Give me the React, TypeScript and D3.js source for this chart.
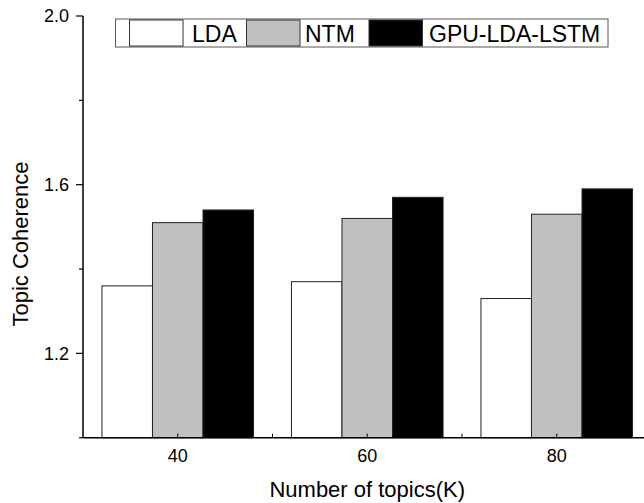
import React, { useEffect, useRef } from 'react';
import * as d3 from 'd3';

const topics = ['40', '60', '80'];
const models = ['LDA', 'NTM', 'GPU-LDA-LSTM'];
const ldaValues = [1.36, 1.37, 1.33];
const ntmValues = [1.51, 1.52, 1.53];
const gpuValues = [1.54, 1.57, 1.59];
const majorTicks = [1.2, 1.6, 2.0];
const minorTicks = [1.0, 1.4, 1.8];

const fills = ['#ffffff', '#c0c0c0', '#000000'];
const font = '"Liberation Sans", Arial, sans-serif';

export default function App() {
  const ref = useRef<SVGSVGElement>(null);

  useEffect(() => {
    const svg = d3.select(ref.current);
    svg.selectAll('*').remove();

    const width = 644, height = 503;
    const left = 83, top = 16, bottom = 437.7;
    const plotRight = 651.5;

    const x = d3.scaleBand<string>()
      .domain(topics)
      .range([left, plotRight])
      .paddingInner(0.2)
      .paddingOuter(0.1);

    const inner = d3.scaleBand<string>()
      .domain(models)
      .range([0, x.bandwidth()])
      .padding(0);

    const y = d3.scaleLinear().domain([1.0, 2.0]).range([bottom, top]);

    const series = [ldaValues, ntmValues, gpuValues];

    // bars
    const groups = svg.append('g')
      .selectAll('g')
      .data(topics)
      .enter()
      .append('g')
      .attr('transform', (d) => 'translate(' + x(d) + ',0)');

    groups.selectAll('rect')
      .data((d, i) => models.map((m, j) => ({ model: m, value: series[j][i], idx: j })))
      .enter()
      .append('rect')
      .attr('x', (d) => inner(d.model) as number)
      .attr('y', (d) => y(d.value))
      .attr('width', inner.bandwidth())
      .attr('height', (d) => bottom - y(d.value))
      .attr('fill', (d) => fills[d.idx])
      .attr('stroke', '#222')
      .attr('stroke-width', 1);

    // x axis
    svg.append('line')
      .attr('x1', left).attr('x2', width)
      .attr('y1', bottom).attr('y2', bottom)
      .attr('stroke', '#000').attr('stroke-width', 1.5);

    const step = x.step();
    const xTickPos = topics.map((t) => (x(t) as number) + x.bandwidth() / 2);
    const xMinorPos = topics.map((t, i) => left + step * (i + 1));
    svg.selectAll('.xtick')
      .data(xTickPos.concat(xMinorPos))
      .enter()
      .append('line')
      .attr('x1', (d) => d).attr('x2', (d) => d)
      .attr('y1', bottom).attr('y2', bottom - 4)
      .attr('stroke', '#000').attr('stroke-width', 1);

    svg.selectAll('.xlabel')
      .data(topics)
      .enter()
      .append('text')
      .attr('x', (d) => (x(d) as number) + x.bandwidth() / 2)
      .attr('y', 462)
      .attr('text-anchor', 'middle')
      .attr('font-family', font)
      .attr('font-size', 18)
      .text((d) => d);

    svg.append('text')
      .attr('x', (left + plotRight) / 2)
      .attr('y', 497)
      .attr('text-anchor', 'middle')
      .attr('font-family', font)
      .attr('font-size', 22)
      .text('Number of topics(K)');

    // y axis
    svg.append('line')
      .attr('x1', left).attr('x2', left)
      .attr('y1', top).attr('y2', bottom)
      .attr('stroke', '#000').attr('stroke-width', 1.5);

    svg.selectAll('.ymajor')
      .data(majorTicks)
      .enter()
      .append('line')
      .attr('x1', left - 7).attr('x2', left)
      .attr('y1', (d) => y(d)).attr('y2', (d) => y(d))
      .attr('stroke', '#000').attr('stroke-width', 1.2);

    svg.selectAll('.yminor')
      .data(minorTicks)
      .enter()
      .append('line')
      .attr('x1', left - 4).attr('x2', left)
      .attr('y1', (d) => y(d)).attr('y2', (d) => y(d))
      .attr('stroke', '#000').attr('stroke-width', 1.2);

    svg.selectAll('.ylabel')
      .data(majorTicks)
      .enter()
      .append('text')
      .attr('x', 69)
      .attr('y', (d) => y(d))
      .attr('dy', '0.35em')
      .attr('text-anchor', 'end')
      .attr('font-family', font)
      .attr('font-size', 18)
      .text((d) => d3.format('.1f')(d));

    svg.append('text')
      .attr('transform', 'translate(28,244) rotate(-90)')
      .attr('text-anchor', 'middle')
      .attr('font-family', font)
      .attr('font-size', 22)
      .text('Topic Coherence');

    // legend
    const legend = svg.append('g');
    legend.append('rect')
      .attr('x', 115.5).attr('y', 19)
      .attr('width', 492.5).attr('height', 28)
      .attr('fill', '#fff')
      .attr('stroke', '#555').attr('stroke-width', 1);

    const swatchX = [129.5, 246.5, 369];
    const textX = [192, 305, 429];
    models.forEach((m, i) => {
      legend.append('rect')
        .attr('x', swatchX[i]).attr('y', 20)
        .attr('width', 53.5).attr('height', 26)
        .attr('fill', fills[i])
        .attr('stroke', '#333').attr('stroke-width', 1);
      legend.append('text')
        .attr('x', textX[i]).attr('y', 41.5)
        .attr('font-family', font)
        .attr('font-size', 23)
        .text(m);
    });
  }, []);

  return (
    <svg
      ref={ref}
      width={644}
      height={503}
      style={{ position: 'absolute', left: 0, top: 0, background: '#fff' }}
    />
  );
}
